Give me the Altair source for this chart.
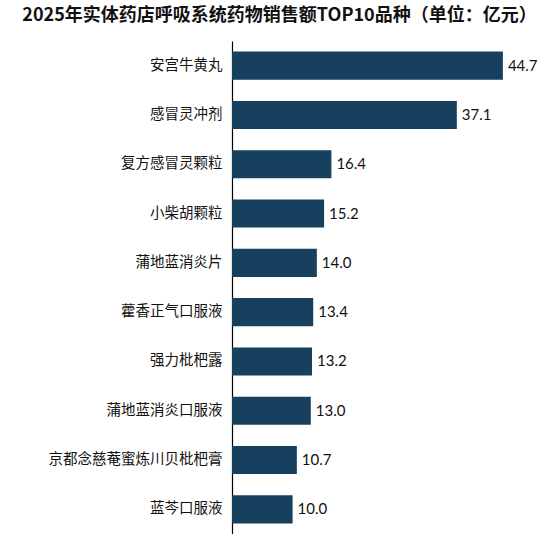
import altair as alt
import pandas as pd

categories = ["安宫牛黄丸", "感冒灵冲剂", "复方感冒灵颗粒", "小柴胡颗粒", "蒲地蓝消炎片",
              "藿香正气口服液", "强力枇杷露", "蒲地蓝消炎口服液", "京都念慈菴蜜炼川贝枇杷膏", "蓝芩口服液"]
values = [44.7, 37.1, 16.4, 15.2, 14.0, 13.4, 13.2, 13.0, 10.7, 10.0]
labels = ["44.7", "37.1", "16.4", "15.2", "14.0", "13.4", "13.2", "13.0", "10.7", "10.0"]

df = pd.DataFrame({"cat": categories, "val": values, "lab": labels})

y = alt.Y("cat:N", sort=categories, title=None,
          scale=alt.Scale(paddingInner=0.43, paddingOuter=0.215),
          axis=alt.Axis(domain=True, domainColor="#000000", domainWidth=1.2, ticks=False,
                        labelPadding=10, labelFontSize=14.5, labelColor="#111111",
                        labelFont="Noto Sans CJK SC", grid=False))
x = alt.X("val:Q", scale=alt.Scale(domain=[0, 50]), axis=None)

bars = alt.Chart(df).mark_bar(color="#17405f").encode(x=x, y=y)
text = alt.Chart(df).mark_text(align="left", dx=5, fontSize=15, font="Lato", color="#111111").encode(
    x=x, y=alt.Y("cat:N", sort=categories), text="lab:N")

chart = (bars + text).properties(
    width=303, height=493,
    title=alt.TitleParams("2025年实体药店呼吸系统药物销售额TOP10品种（单位：亿元）",
                          font="Noto Sans CJK SC", fontSize=18, fontWeight="bold",
                          color="#111111", anchor="middle", dx=-104, offset=16),
    autosize=alt.AutoSizeParams(type="none"),
    padding={"left": 232, "top": 41, "right": 14, "bottom": 0},
).configure_view(stroke=None)

chart.save("out.html", embed_options={"renderer": "svg", "actions": False})
